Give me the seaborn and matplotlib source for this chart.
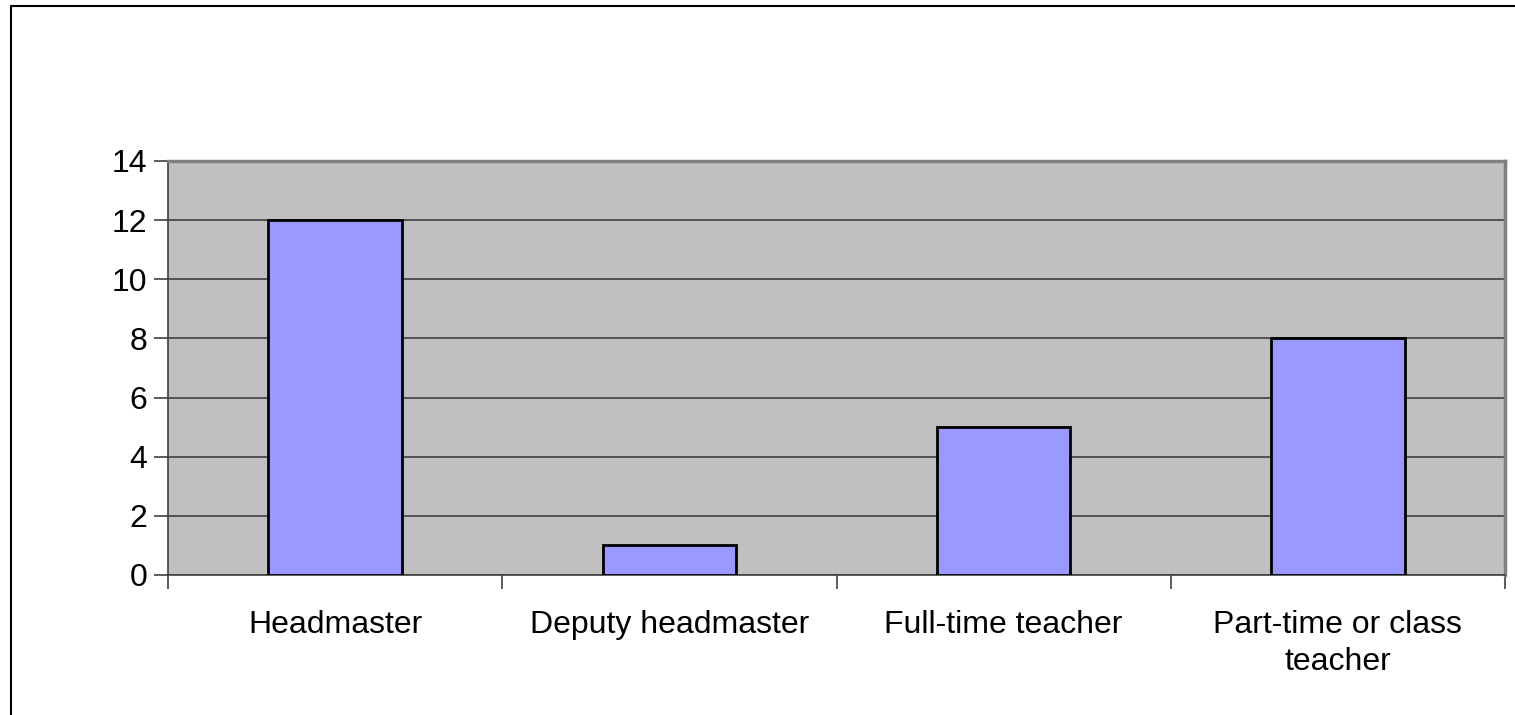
import pandas as pd
import seaborn as sns
import matplotlib.pyplot as plt
from matplotlib.lines import Line2D

# Dados
categorias = ['Headmaster', 'Deputy headmaster', 'Full-time teacher', 'Part-time or class\nteacher']
valores = [12, 1, 5, 8]
y_ticks = [0, 2, 4, 6, 8, 10, 12, 14]

df = pd.DataFrame({'Cargo': categorias, 'Total': valores})

sns.set_theme(style='white')
plt.rcParams['font.family'] = ['Liberation Sans', 'DejaVu Sans']
plt.rcParams['text.color'] = 'black'
plt.rcParams['xtick.labelcolor'] = 'black'
plt.rcParams['ytick.labelcolor'] = 'black'

fig = plt.figure(figsize=(15.15, 7.15), dpi=100)
ax = fig.add_axes([168 / 1515, 1 - 575 / 715, (1505 - 168) / 1515, (575 - 161) / 715])

sns.barplot(data=df, x='Cargo', y='Total', color='#9999FF', saturation=1,
            width=0.4, edgecolor='black', linewidth=2, ax=ax, zorder=3)

ax.set_facecolor('#C0C0C0')
ax.set_ylim(0, 14)
ax.set_xlim(-0.5, len(categorias) - 0.5)
ax.set_yticks(y_ticks)
ax.yaxis.grid(True, color='#404040', linewidth=1.2, zorder=1)
ax.set_axisbelow(True)

# Ticks nas fronteiras das categorias
ax.set_xticks([i - 0.5 for i in range(len(categorias) + 1)], minor=False)
ax.set_xticklabels([])
ax.set_xticks(range(len(categorias)), minor=True)
ax.set_xticklabels(categorias, minor=True, fontsize=23, linespacing=1.3, color='black')
ax.tick_params(axis='x', which='major', length=10, width=1.2, color='#404040', direction='out')
ax.tick_params(axis='x', which='minor', length=0, pad=25)
ax.tick_params(axis='y', length=10, width=1.2, color='#404040', labelsize=23, pad=5, labelcolor='black')
ax.xaxis.set_ticks_position('bottom')
ax.yaxis.set_ticks_position('left')

for lado in ['top', 'right']:
    ax.spines[lado].set_color('#808080')
    ax.spines[lado].set_linewidth(2.5)
for lado in ['left', 'bottom']:
    ax.spines[lado].set_color('#404040')
    ax.spines[lado].set_linewidth(1.2)

ax.set_xlabel('')
ax.set_ylabel('')

# Borda externa do gráfico (estilo Excel)
fig.add_artist(Line2D([10.5 / 1515, 10.5 / 1515], [0, 1 - 6 / 715], color='black', linewidth=1.5))
fig.add_artist(Line2D([10.5 / 1515, 1], [1 - 6 / 715, 1 - 6 / 715], color='black', linewidth=1.5))

fig.savefig('out.png', dpi=100, facecolor='white')
